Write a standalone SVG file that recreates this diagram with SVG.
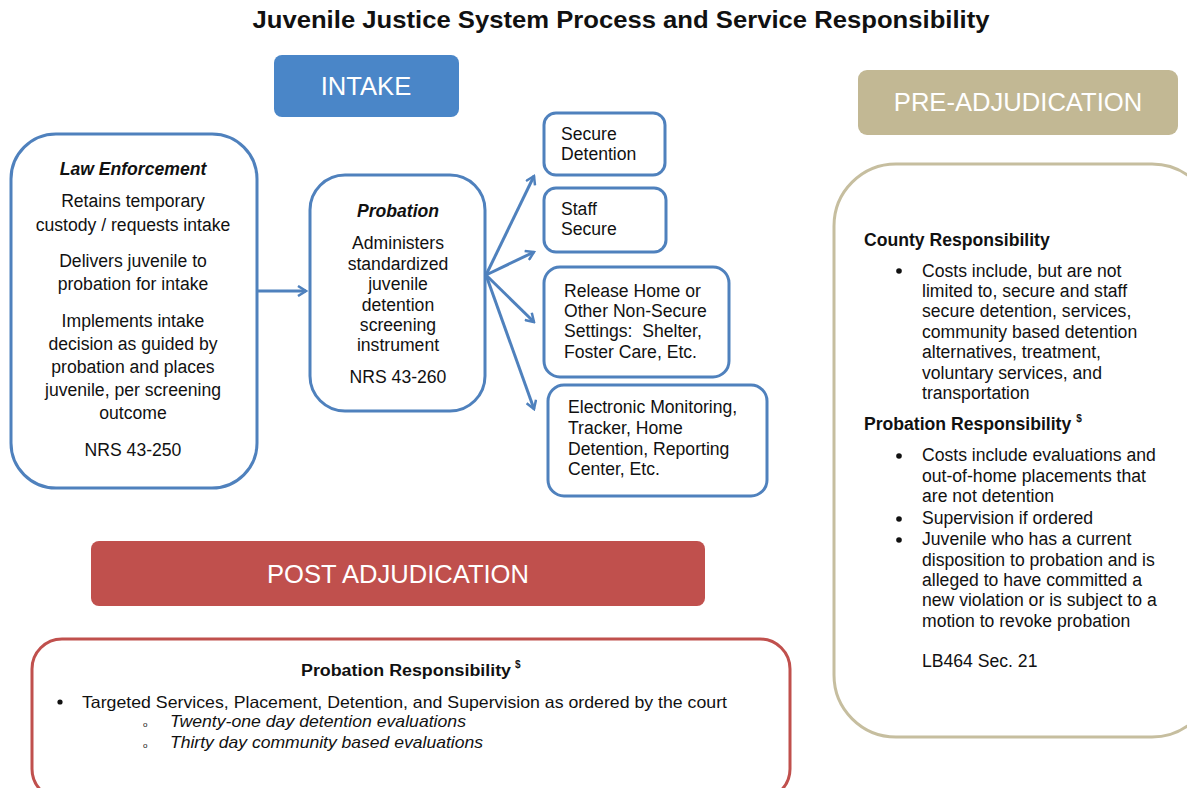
<svg xmlns="http://www.w3.org/2000/svg" width="1187" height="788" viewBox="0 0 1187 788">
<defs>
<marker id="arr" viewBox="0 0 12 12" refX="10" refY="6" markerWidth="12" markerHeight="12" markerUnits="userSpaceOnUse" orient="auto">
<path d="M2,1 L10,6 L2,11" fill="none" stroke="#4F81BD" stroke-width="2.5"/>
</marker>
</defs>
<style>
text{font-family:"Liberation Sans",Arial,sans-serif;fill:#111}
.t{font-size:17.6px}
.c{text-anchor:middle}
.bi{font-weight:bold;font-style:italic}
.b{font-weight:bold}
.hd{font-size:25.6px;fill:#fff;text-anchor:middle}
.blue{fill:#fff;stroke:#4F81BD;stroke-width:3}
.conn{stroke:#4F81BD;stroke-width:3;fill:none;marker-end:url(#arr)}
</style>
<rect width="1187" height="788" fill="#fff"/>
<text x="621" y="28" class="c b" style="font-size:24px" textLength="737" lengthAdjust="spacingAndGlyphs">Juvenile Justice System Process and Service Responsibility</text>

<g id="intake-header">
<rect x="274" y="55" width="185" height="62" rx="8" fill="#4A86C8"/>
<text x="366" y="95" class="hd">INTAKE</text>
</g>

<g id="law-enforcement">
<rect x="11" y="134" width="246" height="354" rx="45" class="blue"/>
<text x="133" y="175" class="t c bi">Law Enforcement</text>
<text x="133" y="207" class="t c">Retains temporary</text>
<text x="133" y="231" class="t c">custody / requests intake</text>
<text x="133" y="267" class="t c">Delivers juvenile to</text>
<text x="133" y="290" class="t c">probation for intake</text>
<text x="133" y="327" class="t c">Implements intake</text>
<text x="133" y="350" class="t c">decision as guided by</text>
<text x="133" y="373" class="t c">probation and places</text>
<text x="133" y="396" class="t c">juvenile, per screening</text>
<text x="133" y="419" class="t c">outcome</text>
<text x="133" y="456" class="t c">NRS 43-250</text>
</g>

<g id="probation">
<rect x="310" y="175" width="175" height="236" rx="35" class="blue"/>
<text x="398" y="217" class="t c bi">Probation</text>
<text x="398" y="249" class="t c">Administers</text>
<text x="398" y="270" class="t c">standardized</text>
<text x="398" y="290" class="t c">juvenile</text>
<text x="398" y="311" class="t c">detention</text>
<text x="398" y="331" class="t c">screening</text>
<text x="398" y="351" class="t c">instrument</text>
<text x="398" y="383" class="t c">NRS 43-260</text>
</g>

<g id="secure-detention">
<rect x="544" y="113" width="121" height="62" rx="12" class="blue"/>
<text x="561" y="140" class="t">Secure</text>
<text x="561" y="160" class="t">Detention</text>
</g>

<g id="staff-secure">
<rect x="544" y="188" width="122" height="64" rx="12" class="blue"/>
<text x="561" y="215" class="t">Staff</text>
<text x="561" y="235" class="t">Secure</text>
</g>

<g id="release-home">
<rect x="544" y="267" width="185" height="110" rx="16" class="blue"/>
<text x="564" y="297" class="t">Release Home or</text>
<text x="564" y="317" class="t">Other Non-Secure</text>
<text x="564" y="337" class="t" xml:space="preserve">Settings:  Shelter,</text>
<text x="564" y="358" class="t">Foster Care, Etc.</text>
</g>

<g id="electronic-monitoring">
<rect x="548" y="385" width="219" height="111" rx="16" class="blue"/>
<text x="568" y="413" class="t">Electronic Monitoring,</text>
<text x="568" y="434" class="t">Tracker, Home</text>
<text x="568" y="455" class="t">Detention, Reporting</text>
<text x="568" y="475" class="t">Center, Etc.</text>
</g>

<g id="connectors">
<line x1="258" y1="291" x2="306" y2="291" class="conn"/>
<line x1="486" y1="275" x2="534" y2="176" class="conn"/>
<line x1="486" y1="275" x2="534" y2="252" class="conn"/>
<line x1="486" y1="275" x2="534" y2="322" class="conn"/>
<line x1="486" y1="275" x2="534" y2="409" class="conn"/>
</g>

<g id="pre-adjudication-header">
<rect x="858" y="70" width="320" height="65" rx="9" fill="#C2B894"/>
<text x="1018" y="111" class="hd">PRE-ADJUDICATION</text>
</g>

<g id="pre-adjudication">
<rect x="834" y="164" width="380" height="573" rx="62" fill="#fff" stroke="#C6BE9F" stroke-width="3"/>
<text x="864" y="246" class="t b">County Responsibility</text>
<circle cx="899" cy="271" r="2.8" fill="#111"/>
<text x="922" y="277" class="t">Costs include, but are not</text>
<text x="922" y="297" class="t">limited to, secure and staff</text>
<text x="922" y="317" class="t">secure detention, services,</text>
<text x="922" y="338" class="t">community based detention</text>
<text x="922" y="358" class="t">alternatives, treatment,</text>
<text x="922" y="379" class="t">voluntary services, and</text>
<text x="922" y="399" class="t">transportation</text>
<text x="864" y="430" class="t b">Probation Responsibility <tspan style="font-size:10px" dy="-8">$</tspan></text>
<circle cx="899" cy="456" r="2.8" fill="#111"/>
<text x="922" y="461" class="t">Costs include evaluations and</text>
<text x="922" y="482" class="t">out-of-home placements that</text>
<text x="922" y="502" class="t">are not detention</text>
<circle cx="899" cy="519" r="2.8" fill="#111"/>
<text x="922" y="524" class="t">Supervision if ordered</text>
<circle cx="899" cy="540" r="2.8" fill="#111"/>
<text x="922" y="545" class="t">Juvenile who has a current</text>
<text x="922" y="566" class="t">disposition to probation and is</text>
<text x="922" y="586" class="t">alleged to have committed a</text>
<text x="922" y="606" class="t">new violation or is subject to a</text>
<text x="922" y="627" class="t">motion to revoke probation</text>
<text x="922" y="667" class="t">LB464 Sec. 21</text>
</g>

<g id="post-adjudication-header">
<rect x="91" y="541" width="614" height="65" rx="8" fill="#C0504D"/>
<text x="398" y="583" class="hd" textLength="262" lengthAdjust="spacingAndGlyphs">POST ADJUDICATION</text>
</g>

<g id="post-adjudication">
<rect x="32" y="639" width="758" height="160" rx="30" fill="#fff" stroke="#C0504D" stroke-width="3"/>
<text x="406" y="676" class="c b" style="font-size:16px" textLength="210" lengthAdjust="spacingAndGlyphs">Probation Responsibility</text>
<text x="515" y="668" class="b" style="font-size:10px">$</text>
<circle cx="60" cy="702" r="2.6" fill="#111"/>
<text x="82" y="708" style="font-size:16.5px" textLength="645" lengthAdjust="spacingAndGlyphs">Targeted Services, Placement, Detention, and Supervision as ordered by the court</text>
<text x="143" y="727" style="font-size:8px">o</text>
<text x="170" y="727" style="font-size:16.5px;font-style:italic" textLength="296" lengthAdjust="spacingAndGlyphs">Twenty-one day detention evaluations</text>
<text x="143" y="748" style="font-size:8px">o</text>
<text x="170" y="748" style="font-size:16.5px;font-style:italic" textLength="313" lengthAdjust="spacingAndGlyphs">Thirty day community based evaluations</text>
</g>
</svg>
